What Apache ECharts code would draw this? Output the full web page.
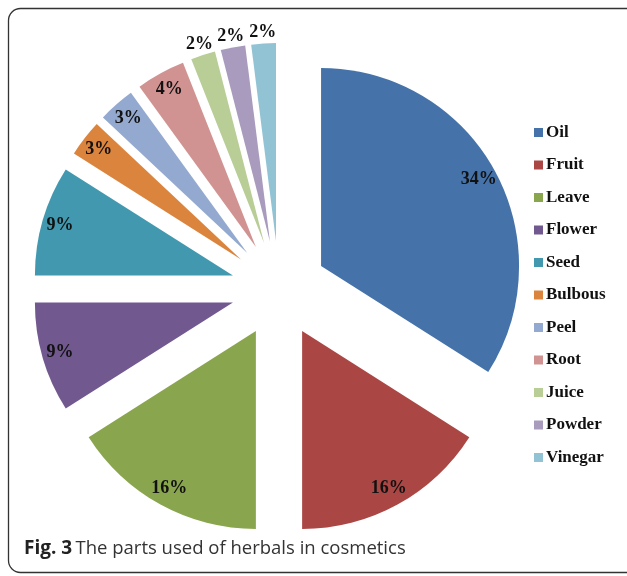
<!DOCTYPE html>
<html><head><meta charset="utf-8">
<script src="https://cdn.jsdelivr.net/npm/echarts@6/dist/echarts.min.js"></script>
<style>html,body{margin:0;padding:0;background:#fff}#c{width:627px;height:576px}</style>
</head><body><div id="c"></div>
<script>
const categories = ['Oil','Fruit','Leave','Flower','Seed','Bulbous','Peel','Root','Juice','Powder','Vinegar'];
const values = [34,16,16,9,9,3,3,4,2,2,2];
const colors = ['#4572A9','#AA4643','#89A54E','#71588F','#4198AF','#DB843D','#93A9CF','#D19392','#B9CD96','#A99BBD','#92C3D4'];
const outsideLabels = ['Juice','Powder','Vinegar'];

const chart = echarts.init(document.getElementById('c'));
const CENTER = [279, 289];
const OFFSET = 48;
const labelFont = {fontFamily:'Liberation Serif', fontWeight:'bold', fontSize:18, color:'#111'};

function baseData(colorFn, labelFn){
  return categories.map((n,i)=>({name:n, value:values[i], selected:true,
    itemStyle:{color:colorFn(i)}, label:labelFn(i)}));
}
const common = {type:'pie', center:CENTER, startAngle:90, clockwise:true,
  selectedMode:'multiple', selectedOffset:OFFSET, avoidLabelOverlap:false,
  labelLayout:{hideOverlap:false}, minShowLabelAngle:0,
  animation:false, labelLine:{show:false},
  select:{itemStyle:{borderWidth:0}}, emphasis:{disabled:true}};

chart.setOption({
  animation:false,
  legend:{orient:'vertical', left:534, top:124, padding:0, icon:'rect', itemWidth:9, itemHeight:9,
    itemGap:15.5, data:categories,
    textStyle:{fontFamily:'Liberation Serif', fontWeight:'bold', fontSize:17, color:'#111', lineHeight:17, padding:[0,0,0,-2]},
    selectedMode:false},
  graphic:[
    {type:'rect', shape:{x:8.5, y:8.5, width:640, height:564, r:12},
     style:{fill:'none', stroke:'#333', lineWidth:1.3}, silent:true},
    {type:'text', left:24, top:539, style:{rich:{b:{fontWeight:'bold', fontFamily:'Open Sans', fontSize:19, fill:'#222'}, n:{fontFamily:'Open Sans', fontSize:18.5, fill:'#333'}},
      text:'{b|Fig. 3} {n|The parts used of herbals in cosmetics}'}}
  ],
  series:[
    Object.assign({}, common, {name:'main', radius:[0,198],
      itemStyle:{borderWidth:0},
      label:{show:false},
      data: baseData(i=>colors[i], i=>({show:false}))}),
    Object.assign({}, common, {name:'inLabels', radius:[0,354], silent:true, z:3,
      itemStyle:{borderWidth:0},
      label:Object.assign({show:true, position:'inside', formatter:'{c}%'}, labelFont),
      data: baseData(i=>'rgba(0,0,0,0)', i=>({show: outsideLabels.indexOf(categories[i])<0}))}),
    Object.assign({}, common, {name:'outLabels', radius:[0,412], silent:true, z:3,
      itemStyle:{borderWidth:0},
      label:Object.assign({show:true, position:'inside', formatter:'{c}%'}, labelFont),
      data: baseData(i=>'rgba(0,0,0,0)', i=>({show: outsideLabels.indexOf(categories[i])>=0}))})
  ]
});
</script></body></html>
